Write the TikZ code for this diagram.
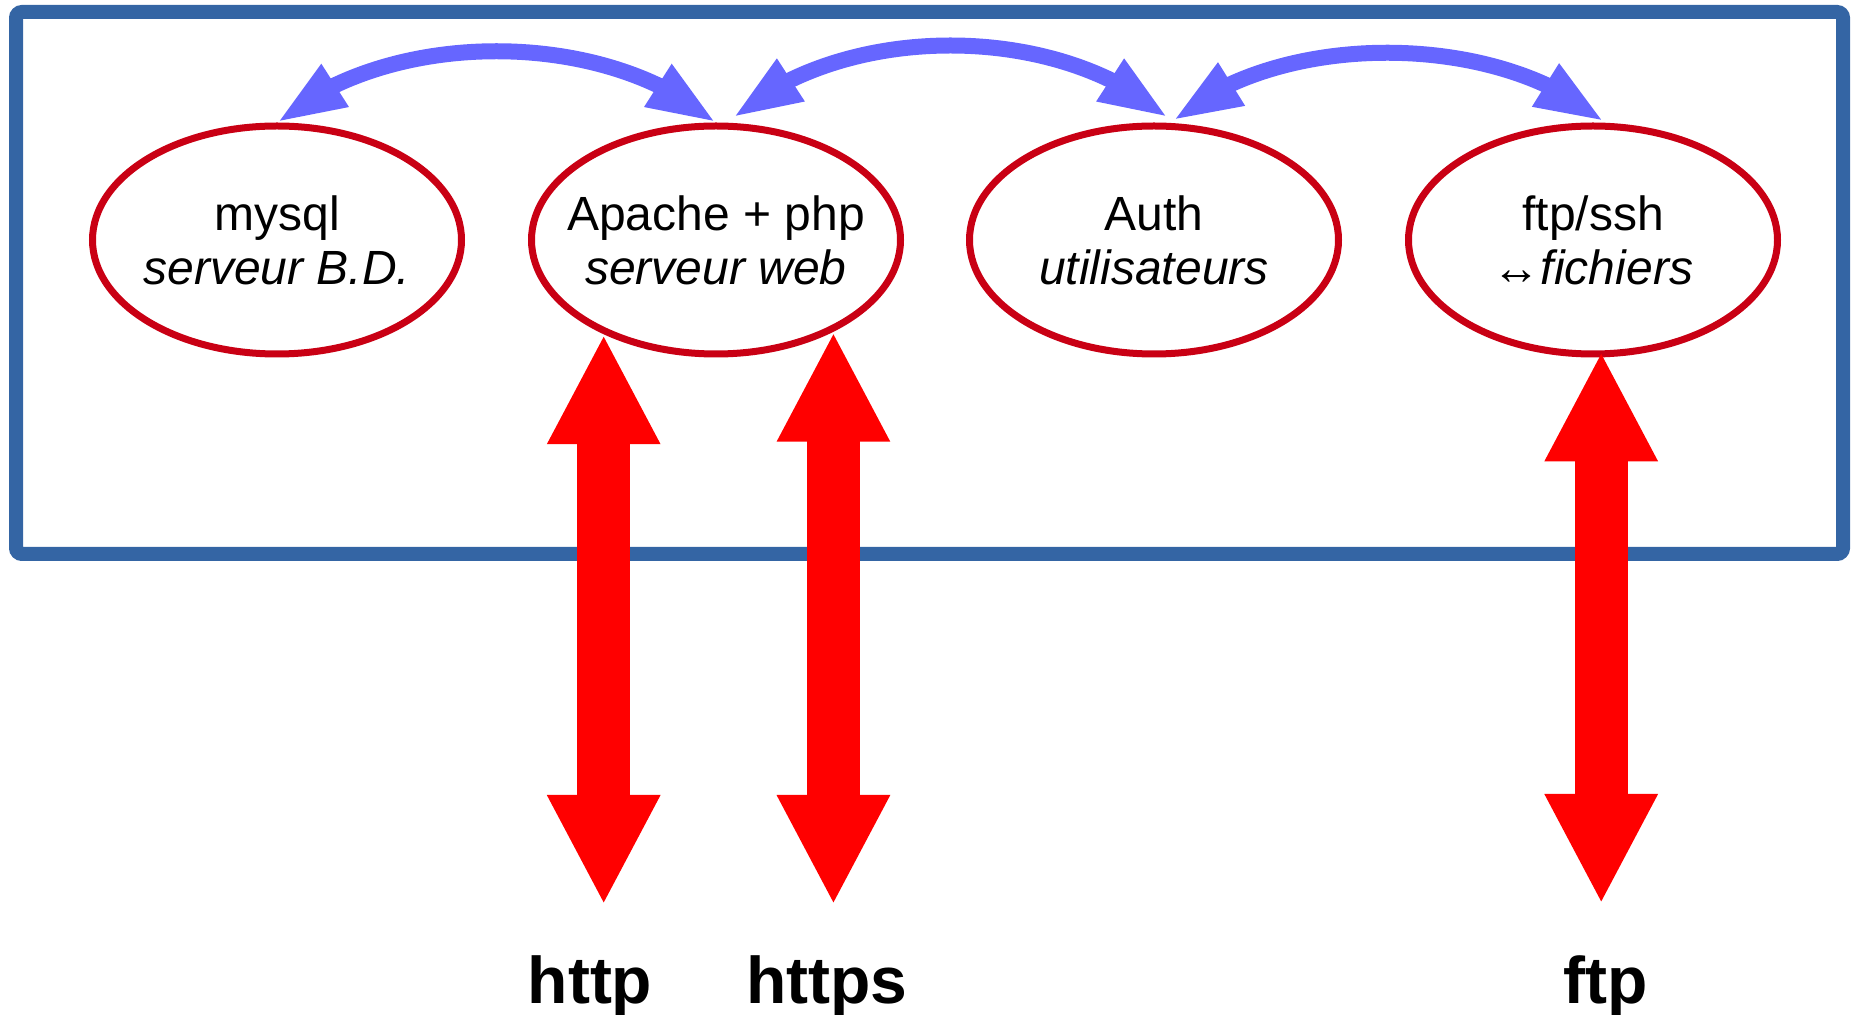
\documentclass[tikz,border=0pt]{standalone}
\usepackage{fontspec}
\setmainfont{Liberation Sans}
\usetikzlibrary{shapes.geometric,arrows.meta,bending}
\definecolor{bleucadre}{RGB}{52,101,164}
\definecolor{rougeserveur}{RGB}{201,0,20}
\definecolor{bleulien}{RGB}{102,102,255}
\definecolor{rougeflux}{RGB}{255,0,0}

\begin{document}
\begin{tikzpicture}[x=0.5pt,y=-0.5pt,
        cadre/.style={draw=bleucadre,line width=7pt,rounded corners=3pt},
        serveur/.style={ellipse,draw=rougeserveur,line width=3.5pt,fill=white,minimum width=184.5pt,minimum height=114pt,inner xsep=-40pt,inner ysep=0pt,align=center,font=\fontsize{24}{27}\selectfont},
        lien/.style={draw=bleulien,line width=8pt,>={Triangle[length=34.5pt,width=23pt,flex]},<->},
        flux/.style={draw=rougeflux,line width=26.5pt,>={Triangle[length=55pt,width=52.5pt]},<->},
        proto/.style={anchor=base,font=\fontsize{33}{36}\selectfont\bfseries}]
            \useasboundingbox (0,0) rectangle (1854,1015);
            \draw[cadre] (16,12) rectangle (1843,554);
            \node[serveur] (mysql) at (277,240) {mysql\\\itshape serveur B.D.};
            \node[serveur] (apache) at (716,240) {Apache + php\\\itshape serveur web};
            \node[serveur] (auth) at (1154,240) {Auth\\\itshape utilisateurs};
            \node[serveur] (ftpssh) at (1593,240) {ftp/ssh\\↔\textit{fichiers}};
            \draw[lien] (mysql.north) .. controls +(110,-95) and +(-110,-95) .. (apache.north);
            \draw[lien] ([xshift=8.5pt,yshift=2.5pt]apache.north) .. controls +(110,-96) and +(-110,-96) .. ([xshift=7pt,yshift=2.5pt]auth.north);
            \draw[lien] ([xshift=9.5pt,yshift=1pt]auth.north) .. controls +(105,-91) and +(-105,-91) .. ([xshift=5.5pt,yshift=0.5pt]ftpssh.north);
            \coordinate (bashttp) at (605,905);
            \coordinate (bashttps) at (831,905);
            \coordinate (basftp) at (1602,910);
            \draw[flux] (apache.220) -- (apache.220 |- bashttp);
            \draw[flux] (apache.322) -- (apache.322 |- bashttps);
            \draw[flux] ([yshift=3pt]ftpssh.274.5) -- ([yshift=3pt]ftpssh.274.5 |- basftp);
            \node[proto] (http) at (590,1003) {http};
            \node[proto] (https) at (827,1003) {https};
            \node[proto] (ftp) at (1606,1003) {ftp};
        \end{tikzpicture}
\end{document}
